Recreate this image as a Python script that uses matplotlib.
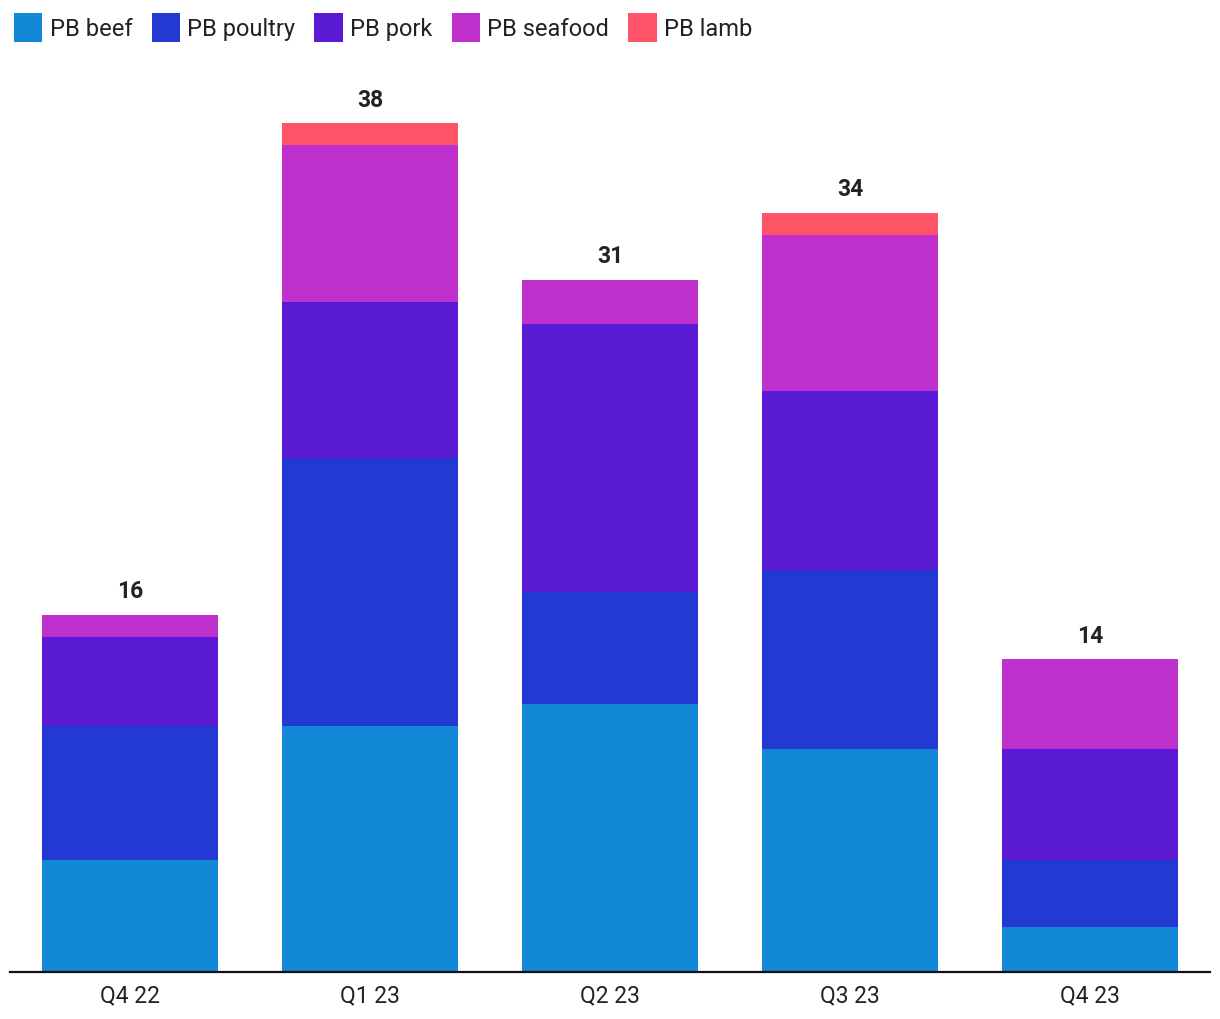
import matplotlib.pyplot as plt
import numpy as np
from matplotlib.patches import Patch

plt.rcParams['font.family'] = ['Roboto', 'DejaVu Sans']

quarters = ['Q4 22', 'Q1 23', 'Q2 23', 'Q3 23', 'Q4 23']
series = ['PB beef', 'PB poultry', 'PB pork', 'PB seafood', 'PB lamb']
beef = [5, 11, 12, 10, 2]
poultry = [6, 12, 5, 8, 3]
pork = [4, 7, 12, 8, 5]
seafood = [1, 7, 2, 7, 4]
lamb = [0, 1, 0, 1, 0]
colors = ['#1288D6', '#2438D4', '#5A1AD4', '#BF30CC', '#FF5468']

values = [beef, poultry, pork, seafood, lamb]

fig = plt.figure(figsize=(12.2, 10.2), dpi=100)
ax = fig.add_axes([10 / 1220, 47 / 1020, 1200 / 1220, 0.876])

x = np.arange(len(quarters))
bottom = np.zeros(len(quarters))
for vals, col in zip(values, colors):
    ax.bar(x, vals, bottom=bottom, width=0.733, color=col, linewidth=0, zorder=2)
    bottom += np.array(vals)

for xi, tot in zip(x, bottom):
    ax.text(xi, tot + 0.55, f'{int(tot)}', ha='center', va='bottom',
            fontsize=16.5, fontweight='bold', color='#222222')

ax.set_xlim(-0.5, len(quarters) - 0.5)
ax.set_ylim(0, 40)
ax.set_xticks(x)
ax.set_xticklabels(quarters, fontsize=16.5, color='#222222')
ax.tick_params(axis='x', length=0, pad=8)
ax.set_yticks([])
for s in ['top', 'right', 'left']:
    ax.spines[s].set_visible(False)
ax.spines['bottom'].set_linewidth(1.6)
ax.spines['bottom'].set_color('#111111')

handles = [Patch(facecolor=c, edgecolor='none') for c in colors]
fig.legend(handles, series, loc='upper left', bbox_to_anchor=(0.0, 1.0),
           ncol=5, frameon=False, fontsize=17, handlelength=1.2,
           handleheight=1.5, handletextpad=0.3, columnspacing=0.82,
           borderaxespad=0.3, borderpad=0.3, labelcolor='#222222')

fig.savefig('out.png', dpi=100, facecolor='white')
